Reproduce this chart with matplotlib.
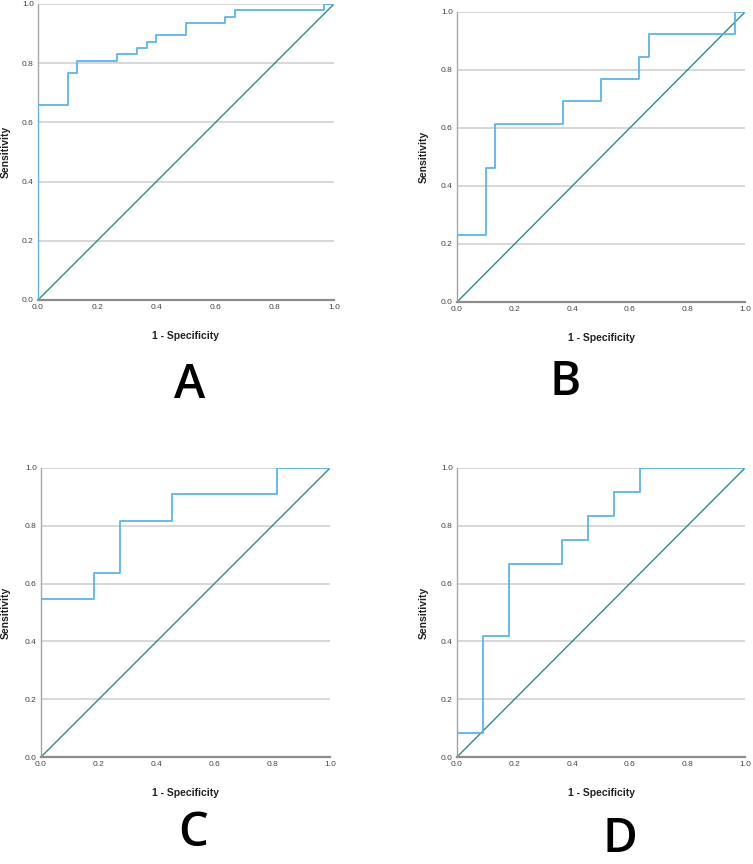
import numpy as np
import matplotlib.pyplot as plt

plt.rcParams['font.family'] = ['Liberation Sans', 'DejaVu Sans']

# ROC breakpoints (1 - specificity, sensitivity)
fpr_a = [0, 0, 0.1, 0.133, 0.267, 0.333, 0.367, 0.4, 0.5, 0.633, 0.667, 0.967, 1.0]
tpr_a = [0, 0.660, 0.766, 0.809, 0.830, 0.851, 0.872, 0.894, 0.936, 0.957, 0.979, 1.0, 1.0]

fpr_b = [0, 0, 0.1, 0.133, 0.367, 0.5, 0.633, 0.667, 0.967, 1.0]
tpr_b = [0, 0.231, 0.462, 0.615, 0.692, 0.769, 0.846, 0.923, 1.0, 1.0]

fpr_c = [0, 0, 0.182, 0.273, 0.455, 0.818, 1.0]
tpr_c = [0, 0.545, 0.636, 0.818, 0.909, 1.0, 1.0]

fpr_d = [0, 0, 0.091, 0.182, 0.364, 0.455, 0.545, 0.636, 1.0]
tpr_d = [0, 0.083, 0.417, 0.667, 0.750, 0.833, 0.917, 1.0, 1.0]

panel_letters = ['A', 'B', 'C', 'D']
ticks = [0.0, 0.2, 0.4, 0.6, 0.8, 1.0]

W, H = 753, 864
fig = plt.figure(figsize=(W / 100, H / 100), dpi=100)

# pixel boxes: left, right, top, bottom
boxes = [(38, 334, 4, 300), (457, 745, 12, 302),
         (41, 330, 468, 757), (457, 745, 468, 757)]
letter_pos = [(190, 385), (565, 383), (193, 834), (620, 840)]
data = [(fpr_a, tpr_a), (fpr_b, tpr_b), (fpr_c, tpr_c), (fpr_d, tpr_d)]

for (l, r, t, b), (fx, fy), letter, (lx, ly) in zip(boxes, data, panel_letters, letter_pos):
    ax = fig.add_axes([l / W, 1 - b / H, (r - l) / W, (b - t) / H])
    ax.set_xlim(0, 1)
    ax.set_ylim(0, 1)
    ax.set_yticks(ticks)
    ax.set_xticks(ticks)
    ax.set_xticklabels(['%.1f' % v for v in ticks])
    ax.set_yticklabels(['%.1f' % v for v in ticks])
    ax.tick_params(length=0, labelsize=6, colors='#444444', pad=3)
    ax.grid(axis='y', color='#d4d4d4', linewidth=1.3)
    ax.set_axisbelow(True)
    for s in ['top', 'right']:
        ax.spines[s].set_visible(False)
    ax.spines['left'].set_color('#a8a8a8')
    ax.spines['left'].set_linewidth(1.0)
    ax.spines['bottom'].set_color('#8c8c8c')
    ax.spines['bottom'].set_linewidth(1.6)

    ax.plot([0, 1], [0, 1], color='#2e8b8b', linewidth=1.0, zorder=2)
    ax.step(fx, fy, where='post', color='#5ab4ee', linewidth=1.3, zorder=3)

    ax.set_xlabel('1 - Specificity', fontsize=7.5, fontweight='bold', color='#222222')
    ax.xaxis.set_label_coords(0.5, -31 / (b - t))
    ax.set_ylabel('Sensitivity', fontsize=7.5, fontweight='bold', color='#222222')
    ax.yaxis.set_label_coords(-(l - (8 if l < 100 else 426) - 3) / (r - l), 0.5)

    fig.text(lx / W, 1 - ly / H, letter, fontsize=34, family='Open Sans',
             fontweight='semibold', ha='center', va='center', color='black')

fig.savefig('out.png', dpi=100, facecolor='white')
